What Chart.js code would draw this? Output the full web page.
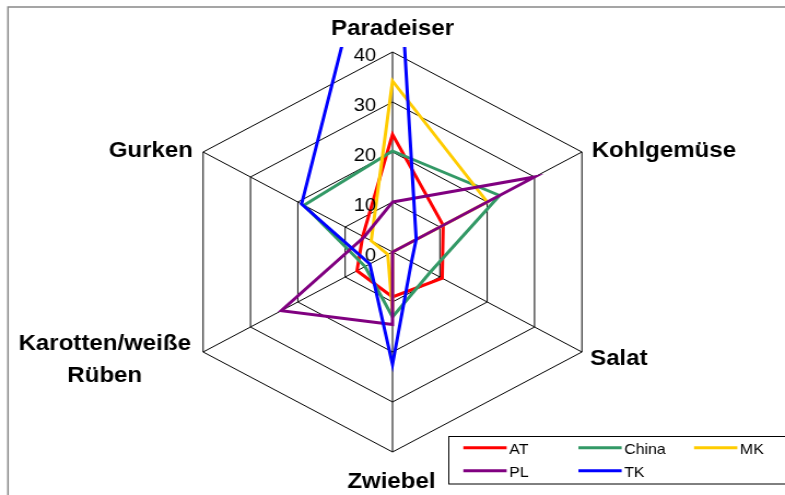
<!DOCTYPE html>
<html>
<head>
<meta charset="utf-8">
<script src="https://cdn.jsdelivr.net/npm/chart.js@4"></script>
<style>
  html, body { margin: 0; padding: 0; background: #fff; }
</style>
</head>
<body>
<canvas id="chart" width="718" height="495" style="display:block;width:785px;height:495px"></canvas>
<script>
// categories (clockwise from top) and series values
const categories = ["Paradeiser", "Kohlgemüse", "Salat", "Zwiebel", ["Karotten/weiße", "Rüben"], "Gurken"];
const seriesNames = ["AT", "China", "MK", "PL", "TK"];
const atValues = [23.5, 10.7, 10.5, 9, 7.5, 6.3];
const chinaValues = [20.2, 22.6, 8, 13, 5.8, 18.7];
const mkValues = [34.2, 20, 0, 12, 1, 4.5];
const plValues = [10, 30, 0, 14.5, 23.5, 6];
const tkValues = [81, 5, 4, 22.5, 4.8, 19.2];
const tickValues = [0, 10, 20, 30, 40];

const colors = ["#ff0000", "#339966", "#ffcc00", "#800080", "#0000ff"];
const FONT = "'Liberation Sans', Arial, sans-serif";

function makeDataset(i, values) {
  return {
    label: seriesNames[i],
    data: values,
    borderColor: colors[i],
    backgroundColor: colors[i],
    borderWidth: 3,
    pointRadius: 0,
    fill: false,
    tension: 0,
    order: 5 - i, // later series drawn on top, like the original
    clip: { left: false, top: 5, right: false, bottom: false },
  };
}

// category labels, tick labels, frame and legend drawn on top of the chart
const decorations = {
  id: "decorations",
  afterDraw(chart) {
    const ctx = chart.ctx;
    const scale = chart.scales.r;
    ctx.save();

    // outer frame
    ctx.strokeStyle = "#888";
    ctx.lineWidth = 1.5;
    ctx.strokeRect(7.3, 7, 800, 600);

    // tick labels left of the vertical axis
    ctx.fillStyle = "#000";
    ctx.font = "18.5px " + FONT;
    ctx.textAlign = "right";
    ctx.textBaseline = "alphabetic";
    tickValues.forEach((v) => {
      const p = scale.getPointPositionForValue(0, v);
      ctx.fillText(String(v), scale.xCenter - 15, p.y + 8.5);
    });

    // category labels
    const offsets = [
      { dx: 0, dy: -17, align: "center" },
      { dx: 9, dy: 4.7, align: "left" },
      { dx: 7.5, dy: 13, align: "left" },
      { dx: -1, dy: 36, align: "center" },
      { dx: -90, dy: -2, align: "center" },
      { dx: -9.3, dy: 5, align: "right" },
    ];
    ctx.font = "bold 22px " + FONT;
    categories.forEach((label, i) => {
      const p = scale.getPointPosition(i, scale.drawingArea);
      const o = offsets[i];
      ctx.textAlign = o.align;
      const lines = Array.isArray(label) ? label : [label];
      lines.forEach((line, k) => {
        ctx.fillText(line, p.x + o.dx, p.y + o.dy + k * 31.7);
      });
    });

    // legend box
    ctx.fillStyle = "#fff";
    ctx.fillRect(410, 436, 320, 48);
    ctx.strokeStyle = "#000";
    ctx.lineWidth = 1;
    ctx.strokeRect(410.5, 436.5, 320, 47.5);
    const colX = [423.8, 529, 634.8];
    const rowY = [447.7, 470.7];
    ctx.font = "14.5px " + FONT;
    ctx.textAlign = "left";
    chart.data.datasets.forEach((ds, i) => {
      const x = colX[i % 3];
      const y = rowY[Math.floor(i / 3)];
      ctx.strokeStyle = ds.borderColor;
      ctx.lineWidth = 3;
      ctx.beginPath();
      ctx.moveTo(x, y);
      ctx.lineTo(x + 39.6, y);
      ctx.stroke();
      ctx.fillStyle = "#000";
      ctx.fillText(ds.label, x + 42, y + 6.5);
    });

    ctx.restore();
  },
};

const ctx = document.getElementById("chart").getContext("2d");
const radarChart = new Chart(ctx, {
  type: "radar",
  data: {
    labels: categories,
    datasets: [
      makeDataset(0, atValues),
      makeDataset(1, chinaValues),
      makeDataset(2, mkValues),
      makeDataset(3, plValues),
      makeDataset(4, tkValues),
    ],
  },
  options: {
    responsive: false,
    animation: false,
    devicePixelRatio: 1,
    layout: {
      padding: { left: 159, right: 158, top: 52, bottom: 42 },
    },
    scales: {
      r: {
        min: 0,
        max: 40,
        ticks: { stepSize: 10, display: false },
        pointLabels: { display: false },
        grid: { color: "#000", lineWidth: 1 },
        angleLines: { color: "#000", lineWidth: 1 },
      },
    },
    plugins: {
      legend: { display: false },
      tooltip: { enabled: false },
    },
  },
  plugins: [decorations],
});
</script>
</body>
</html>
